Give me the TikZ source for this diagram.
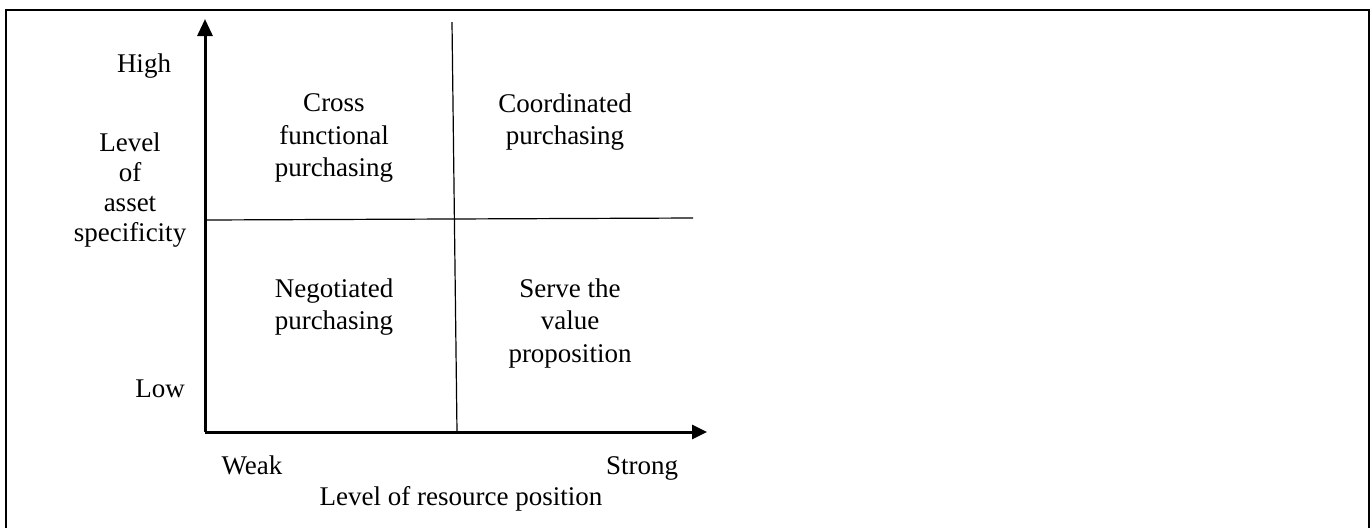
\documentclass[tikz,border=0pt]{standalone}
\usepackage{fontspec}
\setmainfont{Liberation Serif}
\usetikzlibrary{arrows.meta}

\begin{document}
\begin{tikzpicture}[x=0.5pt,y=-0.5pt,
	every node/.style={font=\fontsize{13.5}{16.25}\selectfont, inner sep=0pt, align=center},
	axis/.style={line width=1.5pt},
	divider/.style={line width=0.6pt}]
	\useasboundingbox (0,0) rectangle (1371,527);
	\clip (0,0) rectangle (1371,527);
	% frame
	\draw [line width=1.3pt] (6,540) -- (6,10) -- (1369,10) -- (1369,540);
	% axes
	\coordinate (O) at (205,432);
	\coordinate (ytip) at (205,19);
	\coordinate (xtip) at (707,432);
	\draw [axis, -{Triangle[width=7.5pt,length=8.5pt]}] (O) -- (ytip);
	\draw [axis, -{Triangle[width=7pt,length=7.5pt]}] (O) -- (xtip);
	% quadrant lines
	\coordinate (vtop) at (452,22);
	\coordinate (vbot) at (457,432);
	\coordinate (hleft) at (205,220);
	\coordinate (hright) at (693,218);
	\draw [divider] (vtop) -- (vbot);
	\draw [divider] (hleft) -- (hright);
	% axis labels
	\node (high) at (144,66) {High};
	\node (low) at (160,389) {Low};
	\node (weak) at (252,465) {Weak};
	\node (strong) at (642,468) {Strong};
	\node (xlabel) at (461,499) {Level of resource position};
	\node [font=\fontsize{13.5}{15}\selectfont] (ylabel) at (130,190) {Level\\of\\asset\\specificity};
	% quadrants
	\node (cross) at (334,138) {Cross\\functional\\purchasing};
	\node (coord) at (565,122) {Coordinated\\purchasing};
	\node (nego) at (334,307) {Negotiated\\purchasing};
	\node (serve) at (570,323) {Serve the\\value\\proposition};
\end{tikzpicture}
\end{document}
